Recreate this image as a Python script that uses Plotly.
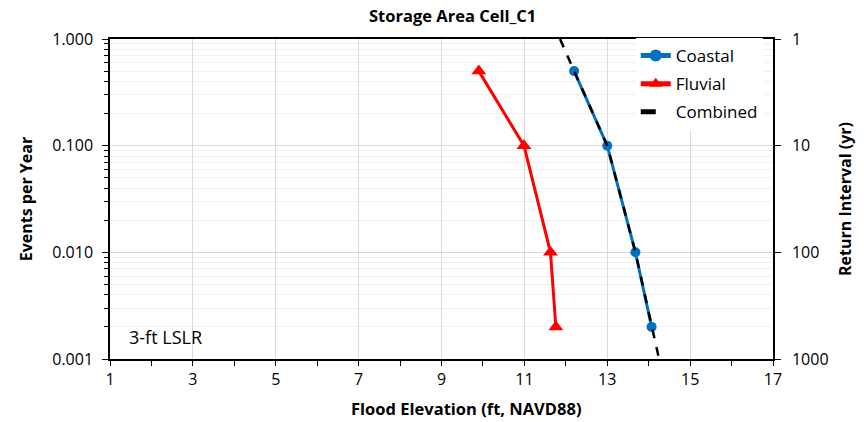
import plotly.graph_objects as go

# Data
coastal_elev = [12.2, 13.0, 13.68, 14.07]
coastal_freq = [0.5, 0.1, 0.01, 0.002]
fluvial_elev = [9.9, 10.99, 11.63, 11.76]
fluvial_freq = [0.5, 0.1, 0.01, 0.002]
combined_elev = [11.86, 12.2, 13.0, 13.68, 14.07, 14.25]
combined_freq = [1.0, 0.5, 0.1, 0.01, 0.002, 0.001]

y_tickvals = [0.001, 0.01, 0.1, 1.0]
y_ticktext = ["0.001", "0.010", "0.100", "1.000"]
ri_tickvals = [1, 10, 100, 1000]
ri_ticktext = ["1", "10", "100", "1000"]
x_tickvals = [1, 3, 5, 7, 9, 11, 13, 15, 17]

FONT = "Open Sans, sans-serif"

minor_vals = [m * 10 ** e for e in (-3, -2, -1) for m in range(2, 10)]

fig = go.Figure()
fig.add_trace(go.Scatter(x=coastal_elev, y=coastal_freq, name="Coastal", mode="lines+markers",
                         legendgroup="a",
                         line=dict(color="#0070C0", width=3),
                         marker=dict(symbol="circle", size=10, color="#0070C0")))
fig.add_trace(go.Scatter(x=fluvial_elev, y=fluvial_freq, name="Fluvial", mode="lines+markers",
                         legendgroup="b",
                         line=dict(color="#FF0000", width=3),
                         marker=dict(symbol="triangle-up", size=13, color="#FF0000")))
fig.add_trace(go.Scatter(x=combined_elev, y=combined_freq, name="Combined", mode="lines",
                         legendgroup="c",
                         line=dict(color="black", width=2.5, dash="dash")))
fig.add_trace(go.Scatter(x=[None], y=[None], yaxis="y2", showlegend=False, hoverinfo="skip"))

fig.update_layout(
    width=864, height=422,
    margin=dict(l=110, r=89, t=39, b=63),
    paper_bgcolor="white", plot_bgcolor="white",
    font=dict(family=FONT, size=16, color="black"),
    xaxis=dict(range=[1, 17], tickvals=x_tickvals, ticks="outside", ticklen=5, tickcolor="black",
               showline=True, linecolor="black", linewidth=1.5, mirror=True,
               showgrid=True, gridcolor="#d9d9d9", gridwidth=1, zeroline=False,
               tickfont=dict(size=16),
               minor=dict(dtick=1, tick0=0, ticks="outside", ticklen=5, tickcolor="black", showgrid=False)),
    yaxis=dict(type="log", range=[-3, 0], tickvals=y_tickvals, ticktext=y_ticktext,
               ticks="outside", ticklen=6, tickcolor="black", ticklabelstandoff=6,
               tickfont=dict(size=16),
               showline=True, linecolor="black", linewidth=1.5,
               showgrid=True, gridcolor="#d9d9d9", gridwidth=1, zeroline=False,
               minor=dict(tickvals=minor_vals, ticks="outside", ticklen=4, tickcolor="black",
                          showgrid=True, gridcolor="#f0f0f0"),
               title=dict(text="<b>Events per Year</b>", standoff=16, font=dict(family=FONT, size=16))),
    yaxis2=dict(type="log", range=[3, 0], overlaying="y", side="right",
                tickvals=ri_tickvals, ticktext=ri_ticktext, ticks="outside", ticklen=6, tickcolor="black",
                ticklabelstandoff=8, tickfont=dict(size=16),
                showline=True, linecolor="black", linewidth=1.5, showgrid=False, zeroline=False,
                title=dict(text="<b>Return Interval (yr)</b>", standoff=12, font=dict(family=FONT, size=16))),
    legend=dict(x=0.793, xanchor="left", y=1.003, yanchor="top", bgcolor="white",
                font=dict(family=FONT, size=17), tracegroupgap=3, itemsizing="constant"),
    showlegend=True,
)

fig.add_annotation(text="<b>Storage Area Cell_C1</b>", xref="paper", yref="paper", x=0.516, y=1.075,
                   xanchor="center", yanchor="middle", showarrow=False, borderpad=0,
                   font=dict(family=FONT, size=16.5, color="black"))
fig.add_annotation(text="<b>Flood Elevation (ft, NAVD88)</b>", xref="paper", yref="paper", x=0.537, y=-0.156,
                   xanchor="center", yanchor="middle", showarrow=False,
                   font=dict(family=FONT, size=16.5, color="black"))
fig.add_annotation(text="3-ft LSLR", xref="paper", yref="paper", x=0.026, y=0.07,
                   xanchor="left", yanchor="middle", showarrow=False,
                   font=dict(family=FONT, size=18, color="black"))

fig.write_html("out.html", config={"displayModeBar": False},
               post_script="document.body.style.margin='0px';")
